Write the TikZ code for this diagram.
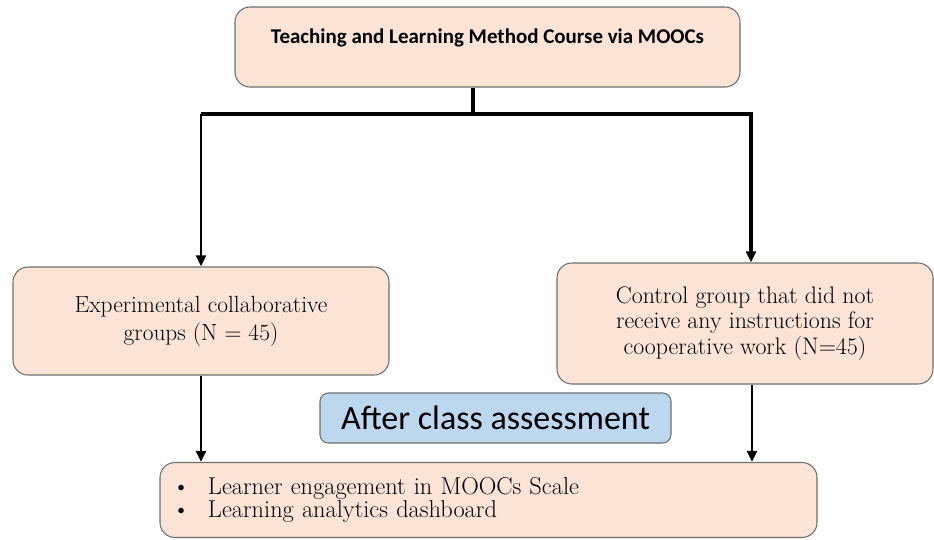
\documentclass[tikz,border=0pt]{standalone}
\usepackage{fontspec}
\newfontfamily\calibri{Carlito}
\usepackage{tikz}
\usetikzlibrary{arrows.meta,positioning}

\definecolor{peach}{HTML}{FBE4D6}
\definecolor{lightblue}{HTML}{BDD7EE}
\definecolor{edgegray}{HTML}{6E6E6E}

\begin{document}
\begin{tikzpicture}[
  x=0.3mm, y=-0.3mm,
  >={Triangle[length=3.3mm, width=2.9mm]},
  box/.style={rectangle, rounded corners=4.5mm, draw=edgegray, line width=0.9pt, fill=peach, align=center, inner sep=0pt},
  tag/.style={rectangle, rounded corners=2.5mm, draw=edgegray, line width=0.9pt, fill=lightblue, align=center, inner sep=0pt},
  link/.style={line width=2.9pt},
  thinlink/.style={line width=2.3pt},
]
\useasboundingbox (0,0) rectangle (934,539);

\node[box, minimum width=151.5mm, minimum height=24mm, text depth=19pt, font=\calibri\bfseries\fontsize{17.9}{20}\selectfont] (course) at (487.5,47) {Teaching and Learning Method Course via MOOCs};
\node[box, minimum width=112.8mm, minimum height=32.4mm, font=\fontsize{20}{24}\selectfont] (expgroup) at (201,321) {Experimental collaborative\\groups (N = 45)};
\node[box, minimum width=112.8mm, minimum height=36.3mm, font=\fontsize{20.4}{21.5}\selectfont] (ctrlgroup) at (745,323.5) {Control group that did not\\receive any instructions for\\cooperative work (N=45)};
\node[tag, minimum width=105.3mm, minimum height=15mm, font=\calibri\fontsize{29}{31}\selectfont] (assess) at (495.5,418) {After class assessment};
\node[box, minimum width=197.1mm, minimum height=22.5mm, text width=185.7mm, align=left, font=\fontsize{20.8}{19.8}\selectfont] (measures) at (488.5,500)
  {\hspace*{-2mm}\makebox[10.7mm][l]{\textbullet}Learner engagement in MOOCs Scale\\
   \hspace*{-2mm}\makebox[10.7mm][l]{\textbullet}Learning analytics dashboard\\[-1mm]};

\coordinate (split) at (473,114);

\draw[link] (course.south -| split) -- (split);
\draw[link] (split) -| (expgroup.north |- split);
\draw[thinlink, ->] (expgroup.north |- split) -- (expgroup.north);
\draw[link, ->] (split) -| ([xshift=1.8mm]ctrlgroup.north);
\draw[thinlink, ->] (expgroup.south) -- (expgroup.south |- measures.north);
\draw[thinlink, ->] ([xshift=2.1mm]ctrlgroup.south) -- ([xshift=2.1mm]ctrlgroup.south |- measures.north);
\end{tikzpicture}
\end{document}
